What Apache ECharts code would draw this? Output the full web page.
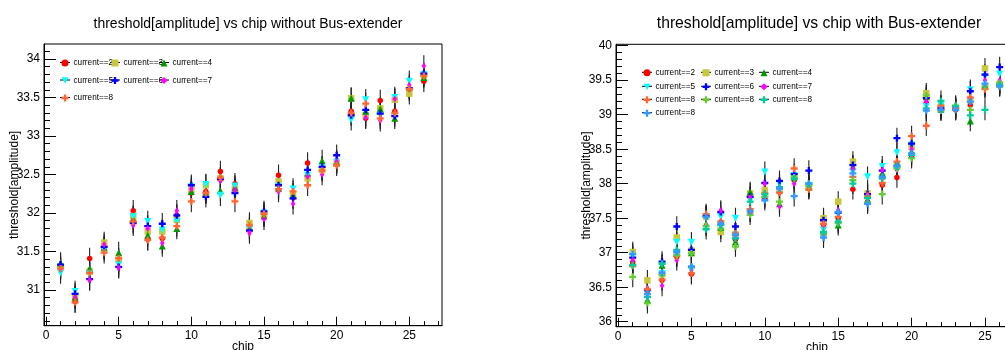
<!DOCTYPE html>
<html><head><meta charset="utf-8">
<script src="https://cdn.jsdelivr.net/npm/echarts@6/dist/echarts.min.js"></script>
<style>html,body{margin:0;padding:0;background:#fff}#c{width:1005px;height:350px}</style>
</head><body><div id="c"></div>
<script>
// ---------- DATA ----------
const chips = [1,2,3,4,5,6,7,8,9,10,11,12,13,14,15,16,17,18,19,20,21,22,23,24,25,26];

// Left panel: without Bus-extender
const L2 = [31.29,30.85,31.41,31.54,31.37,32.03,31.66,31.67,31.97,32.26,32.28,32.54,32.38,31.80,31.96,32.49,32.20,32.65,32.57,32.68,33.32,33.23,33.46,33.32,33.59,33.71];
const L3 = [31.30,30.92,31.24,31.615,31.39,31.96,31.76,31.76,31.91,32.30,32.36,32.45,32.31,31.87,31.97,32.41,32.25,32.45,32.56,32.64,33.49,33.27,33.36,33.47,33.55,33.79];
const L4 = [31.35,30.91,31.28,31.55,31.485,31.93,31.71,31.57,31.80,32.28,32.27,32.29,32.33,31.81,31.96,32.32,32.23,32.52,32.68,32.66,33.49,33.32,33.35,33.23,33.64,33.76];
const L5 = [31.22,30.98,31.21,31.52,31.33,31.95,31.89,31.78,31.89,32.34,32.37,32.23,32.35,31.79,32.00,32.34,32.31,32.49,32.59,32.66,33.21,33.47,33.26,33.50,33.71,33.80];
const L6 = [31.33,30.95,31.14,31.56,31.30,31.87,31.83,31.86,31.97,32.36,32.21,32.44,32.26,31.77,32.02,32.36,32.19,32.56,32.60,32.75,33.27,33.34,33.29,33.26,33.62,33.81];
const L7 = [31.27,30.90,31.13,31.59,31.29,31.84,31.80,31.61,32.03,32.31,32.26,32.42,32.30,31.74,31.92,32.28,32.12,32.47,32.50,32.67,33.30,33.24,33.20,33.48,33.66,33.91];
const L8 = [31.28,30.84,31.22,31.485,31.41,31.89,31.65,31.68,31.83,32.15,32.26,32.46,32.15,31.84,31.99,32.31,32.28,32.36,32.55,32.62,33.30,33.42,33.23,33.30,33.61,33.78];
const errLeft = 0.14;

// Right panel: with Bus-extender
const R2  = [36.86,36.44,36.60,36.94,36.69,37.54,37.44,37.19,37.59,37.79,37.88,38.05,37.96,37.38,37.50,37.92,37.74,37.98,38.09,38.40,39.17,39.12,39.07,39.14,39.40,39.43];
const R3  = [37.01,36.60,36.69,37.22,37.03,37.52,37.30,37.27,37.86,37.91,37.92,38.11,37.98,37.50,37.74,38.32,37.86,38.10,38.26,38.53,39.31,39.12,39.10,39.21,39.67,39.44];
const R4  = [36.84,36.32,36.82,36.99,37.00,37.42,37.37,37.16,37.88,37.84,37.71,38.10,37.95,37.30,37.40,38.25,37.76,38.15,38.30,38.47,39.26,39.08,39.11,38.91,39.43,39.45];
const R5  = [36.95,36.42,36.70,37.15,37.15,37.50,37.52,37.50,37.76,38.17,38.00,38.12,37.97,37.33,37.55,38.17,38.10,38.25,38.45,38.56,39.12,39.14,39.08,39.36,39.55,39.59];
const R6  = [36.93,36.46,36.87,37.38,37.04,37.53,37.59,37.38,37.81,38.01,38.04,38.14,38.19,37.47,37.58,38.27,37.85,38.19,38.66,38.58,39.24,39.09,39.09,39.34,39.58,39.69];
const R7  = [36.89,36.48,36.52,36.89,36.75,37.40,37.61,37.22,37.80,38.00,37.67,38.00,37.93,37.40,37.62,38.21,37.84,38.20,38.20,38.50,39.19,39.09,39.08,39.24,39.50,39.50];
const R8a = [36.81,36.47,36.61,36.95,36.70,37.56,37.45,37.28,37.63,37.86,37.87,38.22,37.92,37.42,37.52,38.10,37.81,38.01,38.32,38.69,38.84,39.13,39.09,39.25,39.37,39.42];
const R8b = [36.65,36.27,36.68,36.97,36.99,37.39,37.35,37.09,37.55,37.81,37.74,38.09,37.97,37.28,37.43,38.05,37.73,37.85,38.22,38.37,39.28,39.06,39.13,39.07,39.41,39.46];
const R8c = [36.82,36.36,36.84,37.04,36.79,37.34,37.40,37.21,37.74,37.85,37.95,38.07,38.00,37.30,37.45,38.00,37.79,38.08,38.25,38.42,39.09,39.20,39.12,38.99,39.07,39.43];
const R8d = [36.98,36.40,36.71,37.01,36.80,37.52,37.42,37.26,37.60,37.76,37.93,37.82,38.00,37.22,37.59,38.15,37.71,38.10,38.26,38.44,39.06,39.07,39.07,39.19,39.45,39.41];
const errRight = 0.15;

const xTickLabels = [0,5,10,15,20,25];
const yTickLabelsLeft = [31,31.5,32,32.5,33,33.5,34];
const yTickLabelsRight = [36,36.5,37,37.5,38,38.5,39,39.5,40];

const leftNames  = ['current==2','current==3','current==4','current==5','current==6','current==7','current==8'];
const rightNames = ['current==2','current==3','current==4','current==5','current==6','current==7','current==8','current==8\u200b','current==8\u200b\u200b','current==8\u200b\u200b\u200b'];
const leftData  = [L2,L3,L4,L5,L6,L7,L8];
const rightData = [R2,R3,R4,R5,R6,R7,R8a,R8b,R8c,R8d];

// ---------- STYLE ----------
const CROSS = 'path://M1,0H2V1H3V2H2V3H1V2H0V1H1Z';
const DOWN = 'path://M0,0L2,0L1,1.8Z';
const styles = [
  {color:'#ff0000', symbol:'circle', size:5.5},
  {color:'#c8c83c', symbol:'rect', size:6.5},
  {color:'#009900', symbol:'triangle', size:7},
  {color:'#00ffff', symbol:DOWN, size:7},
  {color:'#0000ff', symbol:CROSS, size:7},
  {color:'#ff00ff', symbol:'diamond', size:[4.5,7]},
  {color:'#ff6633', symbol:CROSS, size:7},
  {color:'#66cc33', symbol:CROSS, size:7},
  {color:'#00cc99', symbol:CROSS, size:7},
  {color:'#3399ff', symbol:CROSS, size:7}
];
const FONT = 'Liberation Sans, Arial, sans-serif';

function range(a,b,s){const r=[];for(let v=a;v<=b+1e-9;v+=s)r.push(Math.round(v*100)/100);return r;}

function axesFor(gi, xmin, xmax, ymin, ymax, yMaj, yMinor){
  const xs = [
    {type:'value', gridIndex:gi, position:'bottom', min:xmin, max:xmax,
     axisLine:{show:true,onZero:false,lineStyle:{color:'#000',width:1}},
     axisTick:{show:true,inside:true,length:9,customValues:xTickLabels,lineStyle:{color:'#000'}},
     axisLabel:{show:true,customValues:xTickLabels,margin:4,color:'#000',fontSize:12,fontFamily:FONT},
     splitLine:{show:false},
     name:'chip', nameLocation:'middle', nameGap:15, nameMoveOverlap:false,
     nameTextStyle:{color:'#000',fontSize:12,fontFamily:FONT}},
    {type:'value', gridIndex:gi, position:'bottom', min:xmin, max:xmax,
     axisLine:{show:false,onZero:false},
     axisTick:{show:true,inside:true,length:4.5,customValues:range(0,27,1),lineStyle:{color:'#000'}},
     axisLabel:{show:false}, splitLine:{show:false}}
  ];
  const ys = [
    {type:'value', gridIndex:gi, position:'left', min:ymin, max:ymax,
     axisLine:{show:true,onZero:false,lineStyle:{color:'#000',width:1}},
     axisTick:{show:true,inside:true,length:12,customValues:yMaj,lineStyle:{color:'#000'}},
     axisLabel:{show:true,customValues:yMaj,margin:4,color:'#000',fontSize:12,fontFamily:FONT},
     splitLine:{show:false},
     name:'threshold[amplitude]', nameLocation:'middle', nameGap:23, nameMoveOverlap:false,
     nameTextStyle:{color:'#000',fontSize:12,fontFamily:FONT}},
    {type:'value', gridIndex:gi, position:'left', min:ymin, max:ymax,
     axisLine:{show:false,onZero:false},
     axisTick:{show:true,inside:true,length:6,customValues:yMinor,lineStyle:{color:'#000'}},
     axisLabel:{show:false}, splitLine:{show:false}}
  ];
  return {xs, ys};
}

const A = axesFor(0, -0.14, 27.25, 30.536, 34.195, yTickLabelsLeft, range(30.6,34.1,0.1));
const B = axesFor(1, -0.14, 27.25, 35.928, 40.02, yTickLabelsRight, range(36,40,0.1));

function errSeries(xi, yi, vals, err){
  return {type:'custom', xAxisIndex:xi, yAxisIndex:yi, silent:true, clip:true,
    data: chips.map((c,i)=>[c, vals[i]]), encode:{x:0,y:1},
    renderItem:function(params, api){
      const x=api.value(0), y=api.value(1);
      const p1=api.coord([x,y-err]), p2=api.coord([x,y+err]);
      return {type:'line', shape:{x1:p1[0],y1:p1[1],x2:p2[0],y2:p2[1]}, style:{stroke:'#222',lineWidth:1.1}};
    }};
}
function scatter(name, xi, yi, vals, st){
  return {type:'scatter', name, xAxisIndex:xi, yAxisIndex:yi, data: chips.map((c,i)=>[c, vals[i]]),
    symbol:st.symbol, symbolSize:st.size, itemStyle:{color:st.color, opacity:1}, silent:true};
}

const series = [];
leftData.forEach((d,i)=>{ series.push(errSeries(0,0,d,errLeft)); series.push(scatter(leftNames[i],0,0,d,styles[i])); });
rightData.forEach((d,i)=>{ series.push(errSeries(2,2,d,errRight)); series.push(scatter(rightNames[i],2,2,d,styles[i])); });

// legend layout
const legLeftPos = [[65,62.5],[115,62.5],[164,62.5],[65,80],[115,80],[164,80],[65,97.5]];
const legRightPos = [[647,72.3],[706,72.3],[764,72.3],[647,86.3],[706,86.3],[764,86.3],[647,99.3],[706,99.3],[764,99.3],[647,112.7]];
const legends = [], graphics = [];
function addLegend(name, pos){
  legends.push({show:true, data:[{name}], left:pos[0]-3.5, top:pos[1]-3.5, padding:0, itemWidth:7, itemHeight:7,
    selectedMode:false, textStyle:{fontSize:8.2, color:'#000', fontFamily:FONT}});
  graphics.push({type:'line', z:0, shape:{x1:pos[0]-5,y1:pos[1],x2:pos[0]+5,y2:pos[1]}, style:{stroke:'#000',lineWidth:1}});
}
leftNames.forEach((n,i)=>addLegend(n, legLeftPos[i]));
rightNames.forEach((n,i)=>addLegend(n, legRightPos[i]));

const option = {
  animation:false,
  backgroundColor:'#fff',
  title:[
    {text:'threshold[amplitude] vs chip without Bus-extender', left:243, top:12, textAlign:'center',
     textStyle:{fontSize:14, fontWeight:'normal', color:'#000', fontFamily:FONT}},
    {text:'threshold[amplitude] vs chip with Bus-extender', left:814, top:11, textAlign:'center',
     textStyle:{fontSize:15.7, fontWeight:'normal', color:'#000', fontFamily:FONT}}
  ],
  grid:[
    {left:44, top:44, width:398, height:281.7, show:true, borderColor:'#000', borderWidth:1, backgroundColor:'transparent', containLabel:false, outerBoundsMode:'none'},
    {left:616, top:44.3, width:402, height:282.4, show:true, borderColor:'#000', borderWidth:1, backgroundColor:'transparent', containLabel:false, outerBoundsMode:'none'}
  ],
  xAxis:[...A.xs, ...B.xs],
  yAxis:[...A.ys, ...B.ys],
  legend: legends,
  graphic: graphics,
  series
};
const chart = echarts.init(document.getElementById('c'));
chart.setOption(option);
</script></body></html>
